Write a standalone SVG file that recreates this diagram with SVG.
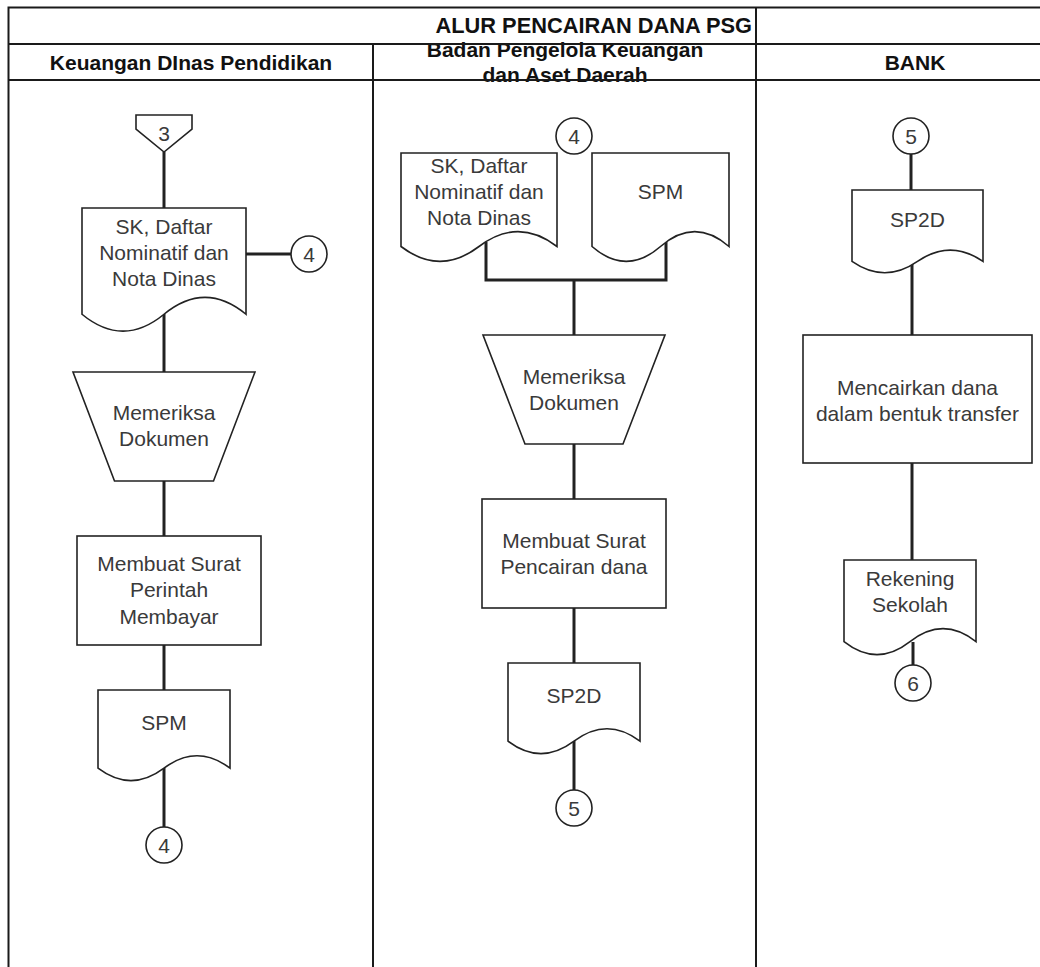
<svg xmlns="http://www.w3.org/2000/svg" width="1040" height="967" viewBox="0 0 1040 967">
<style>
.t{font-family:"Liberation Sans",Arial,sans-serif;font-size:21px;fill:#3a3a3a;text-anchor:middle}
.h{font-family:"Liberation Sans",Arial,sans-serif;font-size:21px;font-weight:bold;fill:#111;text-anchor:middle}
.s{fill:#fff;stroke:#222;stroke-width:1.6}
.c{fill:none;stroke:#222;stroke-width:3}
.g{fill:none;stroke:#1a1a1a;stroke-width:2}
</style>
<rect width="1040" height="967" fill="#fff"/>
<g id="table">
<text class="h" x="752" y="33" style="text-anchor:end;font-size:21.8px">ALUR PENCAIRAN DANA PSG</text>
<text class="h" x="191" y="69.5">Keuangan DInas Pendidikan</text>
<text class="h" x="565" y="56.5">Badan Pengelola Keuangan</text>
<text class="h" x="565" y="81.5">dan Aset Daerah</text>
<text class="h" x="915" y="69.5">BANK</text>
<path class="g" d="M8.5,967 V7.5 H1040 M8.5,44 H1040 M8.5,80 H1040 M373,44 V967 M756,7.5 V967"/>
</g>
<g id="connectors">
<path class="c" d="M164,152 V208"/>
<path class="c" d="M246,254 H291"/>
<path class="c" d="M164,314 V372"/>
<path class="c" d="M164,481 V536"/>
<path class="c" d="M164,645 V698"/>
<path class="c" d="M164,768 V827"/>
<path class="c" d="M486,242 V280 H666 V242"/>
<path class="c" d="M574,280 V335"/>
<path class="c" d="M574,444 V499"/>
<path class="c" d="M574,608 V663"/>
<path class="c" d="M574,741 V790"/>
<path class="c" d="M911,154 V190"/>
<path class="c" d="M912,262 V335"/>
<path class="c" d="M912,463 V560"/>
<path class="c" d="M913,642 V665"/>
</g>
<g id="off3">
<path class="s" d="M136,115 H192 V129 L164,152 L136,129 Z"/>
<text class="t" x="164" y="140.5">3</text>
</g>
<g id="doc1">
<path class="s" d="M82,208 L246,208 L246,314.25 Q205,280.5 164,314.25 Q123,348 82,314.25 Z"/>
<text class="t" x="164" y="234">SK, Daftar</text>
<text class="t" x="164" y="260">Nominatif dan</text>
<text class="t" x="164" y="286">Nota Dinas</text>
</g>
<g id="c4a">
<circle class="s" cx="309" cy="254" r="18"/>
<text class="t" x="309" y="261.5">4</text>
</g>
<g id="check1">
<path class="s" d="M73,372 H255 L213.5,481 H114.5 Z"/>
<text class="t" x="164" y="420">Memeriksa</text>
<text class="t" x="164" y="446">Dokumen</text>
</g>
<g id="spm1proc">
<rect class="s" x="77" y="536" width="184" height="109"/>
<text class="t" x="169" y="570.5">Membuat Surat</text>
<text class="t" x="169" y="597">Perintah</text>
<text class="t" x="169" y="623.5">Membayar</text>
</g>
<g id="spm1">
<path class="s" d="M98,690 L230,690 L230,768.2 Q197,743.36 164,768.2 Q131,793.04 98,768.2 Z"/>
<text class="t" x="164" y="730">SPM</text>
</g>
<g id="c4b">
<circle class="s" cx="164" cy="845" r="18"/>
<text class="t" x="164" y="852.5">4</text>
</g>
<g id="c4c">
<circle class="s" cx="574" cy="136" r="18"/>
<text class="t" x="574" y="143.5">4</text>
</g>
<g id="doc2">
<path class="s" d="M401,153 L557,153 L557,246.5 Q518,216.8 479,246.5 Q440,276.2 401,246.5 Z"/>
<text class="t" x="479" y="172.5">SK, Daftar</text>
<text class="t" x="479" y="198.5">Nominatif dan</text>
<text class="t" x="479" y="224.5">Nota Dinas</text>
</g>
<g id="spm2">
<path class="s" d="M592,153 L729,153 L729,246.5 Q694.75,216.8 660.5,246.5 Q626.25,276.2 592,246.5 Z"/>
<text class="t" x="660.5" y="198.5">SPM</text>
</g>
<g id="check2">
<path class="s" d="M483,335 H665 L623,444 H525 Z"/>
<text class="t" x="574" y="383.5">Memeriksa</text>
<text class="t" x="574" y="410">Dokumen</text>
</g>
<g id="sp2dproc">
<rect class="s" x="482" y="499" width="184" height="109"/>
<text class="t" x="574" y="548">Membuat Surat</text>
<text class="t" x="574" y="574">Pencairan dana</text>
</g>
<g id="sp2d2">
<path class="s" d="M508,663 L640,663 L640,741.2 Q607,716.36 574,741.2 Q541,766.04 508,741.2 Z"/>
<text class="t" x="574" y="703">SP2D</text>
</g>
<g id="c5a">
<circle class="s" cx="574" cy="808" r="18"/>
<text class="t" x="574" y="815.5">5</text>
</g>
<g id="c5b">
<circle class="s" cx="911" cy="136" r="18"/>
<text class="t" x="911" y="143.5">5</text>
</g>
<g id="sp2d3">
<path class="s" d="M852,190 L983,190 L983,261.4 Q950.25,238.72 917.5,261.4 Q884.75,284.08 852,261.4 Z"/>
<text class="t" x="917.5" y="227">SP2D</text>
</g>
<g id="transfer">
<rect class="s" x="803" y="335" width="229" height="128"/>
<text class="t" x="917.5" y="394.5">Mencairkan dana</text>
<text class="t" x="917.5" y="420.5">dalam bentuk transfer</text>
</g>
<g id="rekening">
<path class="s" d="M844,560 L976,560 L976,641.6 Q943,615.68 910,641.6 Q877,667.52 844,641.6 Z"/>
<text class="t" x="910" y="586">Rekening</text>
<text class="t" x="910" y="612">Sekolah</text>
</g>
<g id="c6">
<circle class="s" cx="913" cy="683" r="18"/>
<text class="t" x="913" y="690.5">6</text>
</g>
</svg>
